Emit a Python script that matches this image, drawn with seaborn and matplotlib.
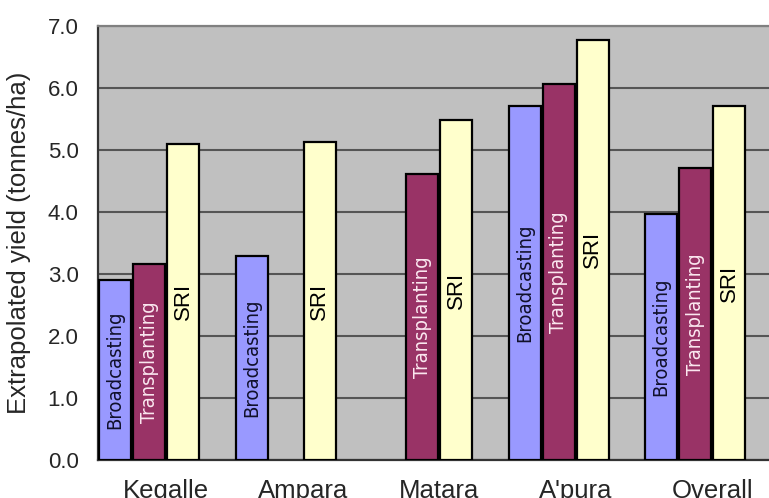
import pandas as pd
import numpy as np
import matplotlib
matplotlib.use("Agg")
import matplotlib.pyplot as plt
import seaborn as sns
from matplotlib import font_manager

# values (t/ha), None = no bar
sites = ["Kegalle", "Ampara", "Matara", "A'pura", "Overall"]
broadcasting = [2.90, 3.29, None, 5.71, 3.97]
transplanting = [3.16, None, 4.61, 6.06, 4.71]
sri = [5.10, 5.13, 5.48, 6.78, 5.71]
methods = ["Broadcasting", "Transplanting", "SRI", " "]
colors = ["#9999FF", "#993366", "#FFFFCC", "#C0C0C0"]

rows = []
for m, vals in zip(methods[:3], [broadcasting, transplanting, sri]):
    for s, v in zip(sites, vals):
        if v is not None:
            rows.append({"Site": s, "Method": m, "Yield": v})
df = pd.DataFrame(rows)

sns.set_style("white")
plt.rcParams['font.family'] = ['Liberation Sans', 'DejaVu Sans']

# look for a narrow / condensed face for the in-bar labels
narrow = None
for f in font_manager.fontManager.ttflist:
    nm = f.name + " " + f.fname
    if f.style == "normal" and f.weight in (400, "normal", "regular") and \
            ("Narrow" in nm or "Condensed" in nm or f.stretch in ("condensed", "semi-condensed")) \
            and "Mono" not in nm and "Serif" not in nm:
        narrow = font_manager.FontProperties(fname=f.fname)
        break
if narrow is None:
    narrow = font_manager.FontProperties(family="Liberation Sans")
    nsize = 13.5
else:
    nsize = 14.5

fig = plt.figure(figsize=(7.69, 4.98), dpi=100)
ax = fig.add_axes([98 / 769, 38 / 498, 682.5 / 769, 434 / 498])
ax.set_facecolor("#C0C0C0")

sns.barplot(data=df, x="Site", y="Yield", hue="Method", order=sites,
            hue_order=methods, palette=colors, saturation=1, width=1.0, gap=0.06,
            edgecolor="black", linewidth=1.6, ax=ax, legend=False, zorder=3)

ax.set_ylim(0, 7)
ax.set_xlim(-0.5, 4.5)
ax.set_yticks(np.arange(0, 7.1, 1.0))
ax.set_yticklabels([f"{v:.1f}" for v in np.arange(0, 7.1, 1.0)], fontsize=16)
ax.yaxis.grid(True, color="#555555", linewidth=1.5, zorder=0)
ax.set_axisbelow(True)

# category boundary ticks, labels centred in categories
ax.set_xticks(np.arange(-0.5, 4.5, 1.0))
ax.set_xticklabels([])
ax.set_xticks(np.arange(0, 5), minor=True)
ax.set_xticklabels(sites, minor=True, fontsize=18.5)
ax.tick_params(axis="x", which="minor", length=0, pad=14)
ax.tick_params(axis="x", which="major", length=7, width=1.2, color="#333333")
ax.tick_params(axis="y", length=6, width=1.2, color="#333333", pad=8)
ax.set_xlabel("")
ax.set_ylabel("Extrapolated yield (tonnes/ha)", fontsize=18.5, labelpad=12)

for sp in ["left", "bottom"]:
    ax.spines[sp].set_color("#333333")
    ax.spines[sp].set_linewidth(1.6)
ax.spines["top"].set_color("#808080")
ax.spines["top"].set_linewidth(1.6)
ax.spines["right"].set_visible(False)

label_style = {
    "Broadcasting": dict(color="#10102a", fontsize=nsize, fontproperties=narrow),
    "Transplanting": dict(color="#fbe8f0", fontsize=nsize, fontproperties=narrow),
    "SRI": dict(color="black", fontsize=16),
}
for cont, m in zip(ax.containers, methods[:3]):
    st = dict(label_style[m])
    fp = st.pop("fontproperties", None)
    if fp is not None:
        fp = fp.copy()
        fp.set_size(st.pop("fontsize"))
        ax.bar_label(cont, labels=[m] * len(cont), label_type="center",
                     rotation=90, fontproperties=fp, **st)
    else:
        ax.bar_label(cont, labels=[m] * len(cont), label_type="center",
                     rotation=90, **st)

fig.savefig("out.png", dpi=100)
